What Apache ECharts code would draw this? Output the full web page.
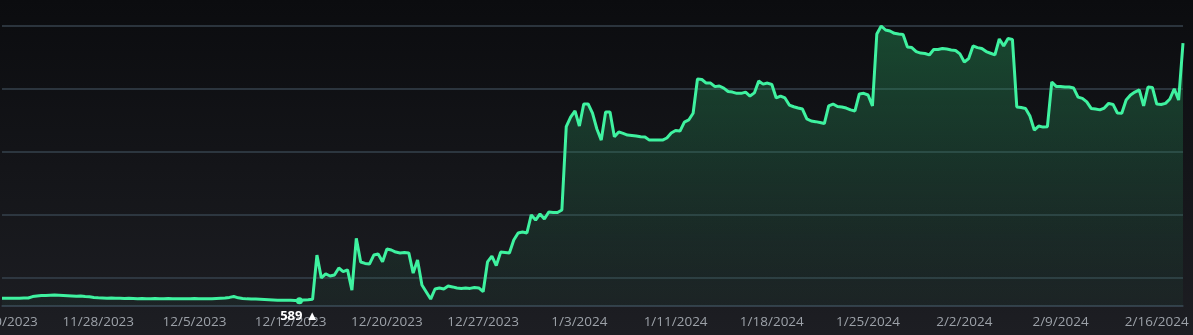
<!DOCTYPE html>
<html>
<head>
<meta charset="utf-8">
<script src="https://cdn.jsdelivr.net/npm/echarts@6/dist/echarts.min.js"></script>
<style>
  html, body { margin: 0; padding: 0; }
  body { background: linear-gradient(#0b0c0f, #1d1e23); }
  #chart { width: 1193px; height: 335px; }
</style>
</head>
<body>
<div id="chart"></div>
<script>
// one point every 8 hours, first one 11/20/2023 16:00
const startTime = Date.UTC(2023, 10, 20, 16);
const stepHours = 8;

const values = [
  590.2, 590.2, 590.2, 590.2, 590.2, 590.3, 590.3, 591.0, 591.3, 591.5,
  591.5, 591.6, 591.7, 591.6, 591.5, 591.4, 591.3, 591.1, 591.3, 591.0,
  590.9, 590.6, 590.4, 590.3, 590.2, 590.3, 590.2, 590.2, 590.1, 590.2,
  590.1, 590.0, 590.1, 590.0, 590.0, 590.1, 590.0, 590.0, 590.1, 590.0,
  590.0, 589.9, 590.0, 590.0, 590.1, 590.0, 590.0, 589.9, 590.0, 590.1,
  590.2, 590.3, 590.6, 591.0, 590.4, 590.1, 589.9, 589.8, 589.8, 589.7,
  589.6, 589.5, 589.4, 589.3, 589.3, 589.2, 589.2, 589.1, 589.0, 589.4,
  589.5, 589.7, 610.8, 599.9, 601.8, 600.8, 601.3, 604.6, 602.9, 603.7,
  594.1, 618.8, 607.5, 606.8, 606.5, 610.8, 611.3, 607.6, 613.7, 613.2,
  612.2, 611.8, 612.0, 611.8, 602.2, 608.4, 596.5, 593.2, 589.8, 594.6,
  595.1, 594.6, 596.0, 595.6, 595.1, 594.9, 595.1, 594.9, 595.3, 595.1,
  593.3, 607.5, 610.3, 605.8, 612.2, 612.0, 611.8, 618.0, 621.3, 621.8,
  621.3, 629.9, 627.5, 630.4, 628.0, 631.3, 631.1, 631.1, 632.3, 672.0,
  676.6, 679.5, 672.3, 682.8, 682.8, 678.5, 670.9, 665.6, 679.0, 679.0,
  667.2, 669.5, 668.8, 668.0, 667.8, 667.6, 667.2, 667.1, 665.6, 665.6,
  665.6, 665.6, 666.6, 669.0, 670.2, 669.9, 674.2, 675.2, 678.4, 694.7,
  694.5, 692.8, 692.8, 691.1, 691.4, 690.4, 688.8, 688.5, 687.9, 687.9,
  688.5, 686.6, 688.1, 693.8, 692.3, 692.8, 692.1, 685.7, 686.6, 685.7,
  682.3, 681.5, 680.9, 680.4, 675.7, 674.7, 674.4, 674.0, 673.5, 681.9,
  682.8, 681.6, 681.4, 680.9, 680.0, 679.5, 687.6, 687.9, 687.1, 681.9,
  716.2, 720.0, 718.1, 717.6, 716.5, 716.2, 716.0, 710.0, 709.7, 707.8,
  707.1, 706.9, 706.2, 708.8, 708.8, 709.3, 709.0, 708.6, 708.3, 706.7,
  702.8, 704.5, 710.5, 709.7, 709.3, 707.8, 707.0, 706.2, 713.8, 710.5,
  714.0, 713.6, 681.4, 681.1, 680.7, 677.1, 670.4, 672.3, 671.8, 672.0,
  693.3, 691.2, 691.2, 690.9, 690.9, 690.4, 686.1, 685.5, 683.8, 680.7,
  680.4, 680.0, 680.9, 683.1, 682.6, 678.5, 678.4, 684.7, 687.1, 688.5,
  689.5, 681.9, 690.9, 690.7, 682.8, 682.6, 683.1, 685.2, 690.0, 684.7,
  711.8
];

const categories = values.map((v, i) => {
  const d = new Date(startTime + i * stepHours * 3600 * 1000);
  return (d.getUTCMonth() + 1) + '/' + d.getUTCDate() + '/' + d.getUTCFullYear();
});

const yMin = 586.5;
const yMax = 720;

const myChart = echarts.init(document.getElementById('chart'));
const option = {
  backgroundColor: 'transparent',
  animation: false,
  grid: {
    left: 2,
    right: 10,
    top: 26,
    bottom: 29,
    containLabel: false,
    outerBoundsMode: 'none',
  },
  xAxis: {
    type: 'category',
    boundaryGap: false,
    data: categories,
    axisLine: { lineStyle: { color: '#36424d', width: 1.5 } },
    axisTick: { show: false },
    axisLabel: {
      interval: 21,
      color: '#9ca1a8',
      fontSize: 13.5,
      fontFamily: 'Open Sans',
      margin: 9,
    },
  },
  yAxis: {
    type: 'value',
    min: yMin,
    max: yMax,
    splitNumber: 5,
    axisLine: { show: false },
    axisTick: { show: false },
    axisLabel: { show: false },
    splitLine: { lineStyle: { color: '#36424d', width: 1.5 } },
  },
  series: [
    {
      type: 'line',
      data: values,
      showSymbol: false,
      smooth: false,
      lineStyle: { color: '#3ff2a0', width: 3 },
      itemStyle: { color: '#3ff2a0' },
      areaStyle: {
        color: new echarts.graphic.LinearGradient(0, 0, 0, 1, [
          { offset: 0, color: 'rgba(40, 150, 90, 0.62)' },
          { offset: 1, color: 'rgba(40, 120, 85, 0.12)' },
        ]),
      },
      markPoint: {
        symbol: 'circle',
        symbolSize: 7,
        itemStyle: { color: '#3ff2a0' },
        data: [{ type: 'min' }],
        label: {
          show: true,
          position: 'bottom',
          distance: 6,
          color: '#ffffff',
          fontWeight: 'bold',
          fontSize: 13,
          fontFamily: 'Open Sans',
          formatter: (p) => Math.round(p.value) + ' ▲',
        },
      },
    },
  ],
};
myChart.setOption(option);
</script>
</body>
</html>
